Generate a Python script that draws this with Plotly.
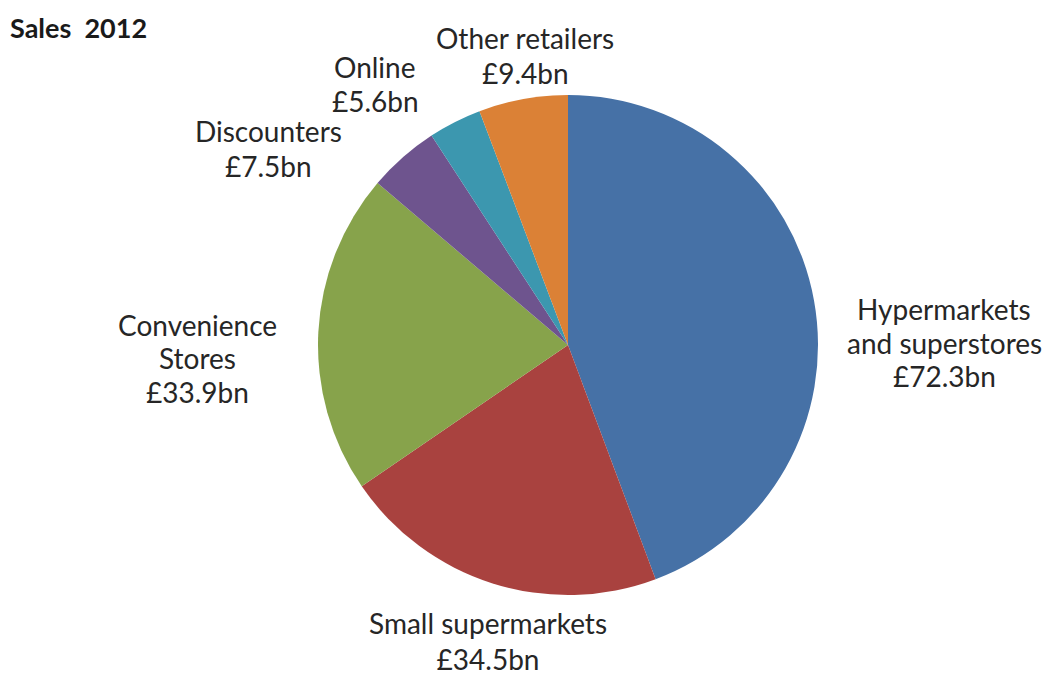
import plotly.graph_objects as go

# Grocery sales by channel, 2012 (£bn)
channels = ["Hypermarkets and superstores", "Small supermarkets", "Convenience Stores",
            "Discounters", "Online", "Other retailers"]
sales_bn = [72.3, 34.5, 33.9, 7.5, 5.6, 9.4]
colors = ["#4671A6", "#A9423F", "#87A34B", "#6E548E", "#3C97AF", "#DB8136"]

# label wrapping: name lines shown above the value line
label_lines = [["Hypermarkets", "and superstores"], ["Small supermarkets"],
               ["Convenience", "Stores"], ["Discounters"], ["Online"], ["Other retailers"]]

W, H = 1050, 677
cx, cy, r = 568, 345, 250  # pie centre and radius in pixels

# label block anchor: centre x and y of each text line, in pixels
label_x = [944, 488, 197, 268, 375, 525]
label_y = [[309, 343, 376], None, [325, 358, 392], [131, 166], [67, 101], [38, 73]]

FONT = "Lato, Open Sans, sans-serif"

fig = go.Figure(go.Pie(
    labels=channels,
    values=sales_bn,
    sort=False,
    direction="clockwise",
    rotation=0,
    marker=dict(colors=colors, line=dict(width=0)),
    textinfo="none",
    hovertemplate="%{label}: £%{value}bn<extra></extra>",
    domain=dict(x=[(cx - r) / W, (cx + r) / W], y=[(H - cy - r) / H, (H - cy + r) / H]),
    showlegend=False,
))

for lines, val, px, ys in zip(label_lines, sales_bn, label_x, label_y):
    texts = lines + [f"£{val}bn"]
    if ys is None:
        # bottom label: one block resting on the lower page edge
        fig.add_annotation(
            x=px / W, y=0, xref="paper", yref="paper",
            text="<br>".join(texts), showarrow=False,
            xanchor="center", yanchor="bottom", align="center", borderpad=0,
            font=dict(family=FONT, size=28, color="#262626"),
        )
        continue
    for text, py in zip(texts, ys):
        fig.add_annotation(
            x=px / W, y=1 - py / H, xref="paper", yref="paper",
            text=text, showarrow=False,
            xanchor="center", yanchor="middle", align="center",
            font=dict(family=FONT, size=28, color="#262626"),
        )

fig.add_annotation(
    x=8 / W, y=1 - 27 / H, xref="paper", yref="paper",
    text="<b>Sales  2012</b>", showarrow=False,
    xanchor="left", yanchor="middle",
    font=dict(family=FONT, size=27, color="#1a1a1a"),
)

fig.update_layout(
    width=W, height=H,
    margin=dict(l=0, r=0, t=0, b=0),
    paper_bgcolor="white", plot_bgcolor="white",
)

fig.write_html("out.html")
